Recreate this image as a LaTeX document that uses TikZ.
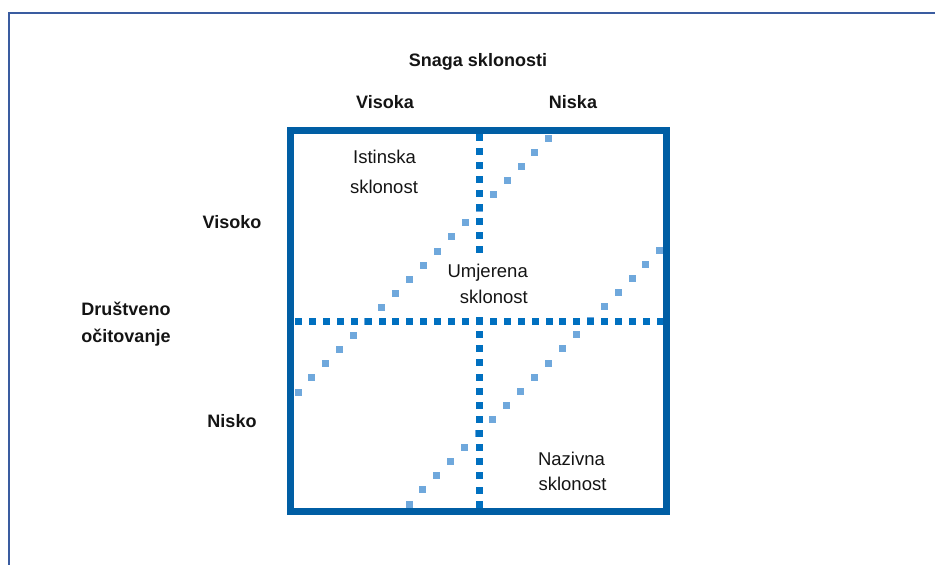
\documentclass[tikz,border=0pt]{standalone}
\usepackage{fontspec}
\setmainfont{Liberation Sans}
\definecolor{boxblue}{RGB}{0,94,164}
\definecolor{dotblue}{RGB}{0,112,192}
\definecolor{lightblue}{RGB}{111,168,220}
\definecolor{framecol}{RGB}{58,92,160}
\definecolor{txt}{RGB}{20,20,20}
\begin{document}
\begin{tikzpicture}[x=1pt,y=-1pt,
  axislab/.style={font=\fontsize{18}{20}\selectfont\bfseries, anchor=base, inner sep=0pt, text=txt},
  celllab/.style={font=\fontsize{18.5}{20}\selectfont, anchor=base, inner sep=0pt, text=txt},
  lightdot/.style={fill=lightblue},
  darkdot/.style={fill=dotblue}]
\useasboundingbox (0,0) rectangle (935,565);
% outer frame
\draw[framecol, line width=2.5pt] (9,565) -- (9,13) -- (935,13);
% light diagonal dots
\foreach \k in {0,...,18}{
  \fill[lightdot] ({298+13.94*\k-3.5},{392-14.1*\k-3.5}) rectangle ++(7,7);
  \fill[lightdot] ({409+13.94*\k-3.5},{504-14.1*\k-3.5}) rectangle ++(7,7);
}
% dark dotted dividers
\foreach \i in {0,...,26}{
  \fill[darkdot] ({298.5+13.92*\i-3.5},{321.5-3.5}) rectangle ++(7,7);
}
\foreach \i in {0,...,8,13,14,...,26}{
  \fill[darkdot] ({479.5-3.5},{137+14.12*\i-3.5}) rectangle ++(7,7);
}
% main box
\draw[boxblue, line width=7pt] (290.5,130) rectangle (666.5,511.5);
% labels
\node[axislab] (title) at (478,66) {Snaga sklonosti};
\node[axislab] (visoka) at (385,108) {Visoka};
\node[axislab] (niska) at (573,108) {Niska};
\node[axislab] (visoko) at (232,228) {Visoko};
\node[axislab] (drus) at (126,315) {Društveno};
\node[axislab] (ocit) at (126,342) {očitovanje};
\node[axislab] (nisko) at (232,427) {Nisko};
\node[celllab] (ist1) at (384.5,163) {Istinska};
\node[celllab] (ist2) at (384,193) {sklonost};
\node[celllab, anchor=base east] (umj1) at (528,277) {Umjerena};
\node[celllab, anchor=base east] (umj2) at (528,303) {sklonost};
\node[celllab] (naz1) at (571.5,465) {Nazivna};
\node[celllab] (naz2) at (572.5,490) {sklonost};
\end{tikzpicture}
\end{document}
